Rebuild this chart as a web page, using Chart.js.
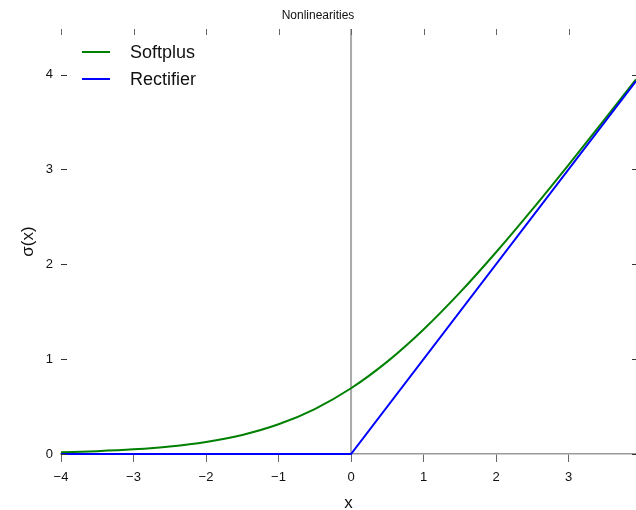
<!DOCTYPE html>
<html>
<head>
<meta charset="utf-8">
<script src="https://cdn.jsdelivr.net/npm/chart.js@4/dist/chart.umd.min.js"></script>
<style>
  html, body { margin: 0; padding: 0; background: #fff; }
  #wrap { width: 636px; height: 510px; }
</style>
</head>
<body>
<div id="wrap"><canvas id="myChart" width="636" height="510"></canvas></div>
<script>
// values
var xValues = [-4, -3.5, -3, -2.5, -2, -1.5, -1, -0.5, 0, 0.5, 1, 1.5, 2, 2.5, 3, 3.5, 3.93];
var softplusValues = [0.018, 0.03, 0.049, 0.079, 0.127, 0.201, 0.313, 0.474, 0.693, 0.974, 1.313, 1.701, 2.127, 2.579, 3.049, 3.53, 3.949];
var rectifierX = [-4, 0, 3.93];
var rectifierValues = [0, 0, 3.93];
var zeroLineX = [0, 0];
var zeroLineY = [0, 4.48];
var xTicks = [-4, -3, -2, -1, 0, 1, 2, 3];
var yTicks = [0, 1, 2, 3, 4];

var fontFamily = '"Liberation Sans", Arial, Helvetica, sans-serif';

function toPoints(xs, ys) {
  return xs.map(function (x, i) { return { x: x, y: ys[i] }; });
}

function minusSign(value) {
  return String(value).replace('-', '\u2212');
}

var tickMarks = {
  id: 'tickMarks',
  afterDatasetsDraw: function (chart) {
    var ctx = chart.ctx;
    var area = chart.chartArea;
    var xs = chart.scales.x;
    var ys = chart.scales.y;
    ctx.save();
    ctx.lineWidth = 1;
    ctx.strokeStyle = '#666';
    xTicks.forEach(function (v) {
      var px = Math.round(xs.getPixelForValue(v)) + 0.5;
      ctx.beginPath();
      ctx.moveTo(px, area.top);
      ctx.lineTo(px, area.top + 6);
      ctx.stroke();
    });
    ctx.strokeStyle = '#333';
    yTicks.forEach(function (v) {
      var py = Math.round(ys.getPixelForValue(v)) + 0.5;
      ctx.beginPath();
      ctx.moveTo(area.left, py);
      ctx.lineTo(area.left + 6, py);
      ctx.moveTo(area.right, py);
      ctx.lineTo(area.right - 4, py);
      ctx.stroke();
    });
    ctx.restore();
  },
};

var insideLegend = {
  id: 'insideLegend',
  afterDraw: function (chart) {
    var ctx = chart.ctx;
    var area = chart.chartArea;
    ctx.save();
    ctx.font = '18px ' + fontFamily;
    ctx.textBaseline = 'middle';
    ctx.fillStyle = '#111';
    chart.data.datasets.slice(0, 2).forEach(function (ds, i) {
      var y = area.top + 23 + i * 27;
      ctx.strokeStyle = ds.borderColor;
      ctx.lineWidth = 2;
      ctx.beginPath();
      ctx.moveTo(area.left + 21, y);
      ctx.lineTo(area.left + 49, y);
      ctx.stroke();
      ctx.fillText(ds.label, area.left + 69, y + 1);
    });
    ctx.restore();
  },
};

new Chart('myChart', {
  type: 'line',
  data: {
    datasets: [
      {
        label: 'Softplus',
        data: toPoints(xValues, softplusValues),
        borderColor: '#008000',
        borderWidth: 2,
        pointRadius: 0,
        cubicInterpolationMode: 'monotone',
        clip: 3,
        order: 1,
      },
      {
        label: 'Rectifier',
        data: toPoints(rectifierX, rectifierValues),
        borderColor: '#0000ff',
        borderWidth: 2,
        pointRadius: 0,
        clip: 3,
        order: 0,
      },
      {
        label: '',
        data: toPoints(zeroLineX, zeroLineY),
        borderColor: '#aaa',
        borderWidth: 2,
        pointRadius: 0,
        order: 2,
      },
    ],
  },
  options: {
    responsive: false,
    animation: false,
    layout: { padding: 0 },
    plugins: {
      legend: { display: false },
      tooltip: { enabled: false },
      title: {
        display: true,
        text: 'Nonlinearities',
        color: '#111',
        font: { family: fontFamily, size: 12, weight: 'normal' },
        padding: { top: 8, bottom: 6.6 },
      },
    },
    scales: {
      x: {
        type: 'linear',
        min: -4,
        max: 3.93,
        afterFit: function (scale) { scale.height = 56; },
        afterBuildTicks: function (scale) {
          scale.ticks = xTicks.map(function (v) { return { value: v }; });
        },
        grid: {
          drawOnChartArea: false,
          drawTicks: true,
          tickLength: 8,
          tickColor: '#666',
        },
        border: { display: true, color: '#999', width: 1.5 },
        ticks: {
          color: '#111',
          padding: 8,
          maxRotation: 0,
          font: { family: fontFamily, size: 13 },
          callback: function (v) { return minusSign(v); },
        },
        title: {
          display: true,
          text: 'x',
          color: '#111',
          font: { family: fontFamily, size: 17, lineHeight: 0.8 },
          padding: 0,
        },
      },
      y: {
        type: 'linear',
        min: 0,
        max: 4.48,
        afterFit: function (scale) { scale.width = 61; },
        afterBuildTicks: function (scale) {
          scale.ticks = yTicks.map(function (v) { return { value: v }; });
        },
        grid: { display: false, drawTicks: false },
        border: { display: false },
        ticks: {
          color: '#111',
          padding: 8,
          font: { family: fontFamily, size: 13 },
        },
        title: {
          display: true,
          text: '\u03c3(x)',
          color: '#111',
          font: { family: fontFamily, size: 17 },
          padding: { top: 18, bottom: 0 },
        },
      },
    },
  },
  plugins: [tickMarks, insideLegend],
});
</script>
</body>
</html>
